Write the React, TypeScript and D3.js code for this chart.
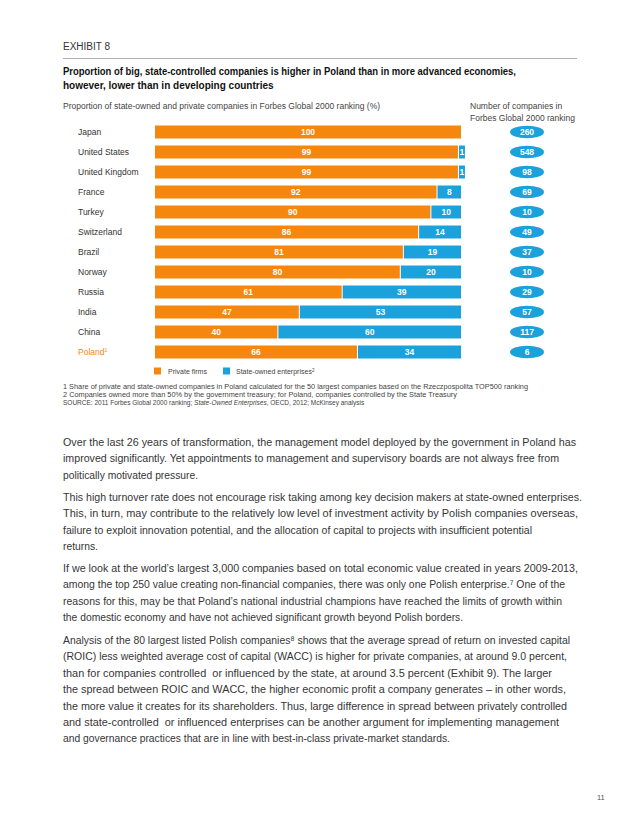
import * as d3 from "d3";

const countries = [
  "Japan",
  "United States",
  "United Kingdom",
  "France",
  "Turkey",
  "Switzerland",
  "Brazil",
  "Norway",
  "Russia",
  "India",
  "China",
  "Poland",
];
const privateShare = [100, 99, 99, 92, 90, 86, 81, 80, 61, 47, 40, 66];
const stateShare = [0, 1, 1, 8, 10, 14, 19, 20, 39, 53, 60, 34];
const companyCounts = [260, 548, 98, 69, 10, 49, 37, 10, 29, 57, 117, 6];

const ORANGE = "#f5870f";
const BLUE = "#1ba1dc";
const FONT = "'Liberation Sans', Arial, Helvetica, sans-serif";

// body copy, one entry per line; w = justified width (0 = natural)
const paragraphs: { text: string; w: number }[][] = [
  [
    { text: "Over the last 26 years of transformation, the management model deployed by the government in Poland has", w: 513 },
    { text: "improved significantly. Yet appointments to management and supervisory boards are not always free from", w: 496 },
    { text: "politically motivated pressure.", w: 0 },
  ],
  [
    { text: "This high turnover rate does not encourage risk taking among key decision makers at state-owned enterprises.", w: 519 },
    { text: "This, in turn, may contribute to the relatively low level of investment activity by Polish companies overseas,", w: 515 },
    { text: "failure to exploit innovation potential, and the allocation of capital to projects with insufficient potential", w: 469 },
    { text: "returns.", w: 0 },
  ],
  [
    { text: "If we look at the world\u2019s largest 3,000 companies based on total economic value created in years 2009-2013,", w: 515 },
    { text: "among the top 250 value creating non-financial companies, there was only one Polish enterprise.\u2077 One of the", w: 502 },
    { text: "reasons for this, may be that Poland\u2019s national industrial champions have reached the limits of growth within", w: 499 },
    { text: "the domestic economy and have not achieved significant growth beyond Polish borders.", w: 0 },
  ],
  [
    { text: "Analysis of the 80 largest listed Polish companies\u2078 shows that the average spread of return on invested capital", w: 507 },
    { text: "(ROIC) less weighted average cost of capital (WACC) is higher for private companies, at around 9.0 percent,", w: 504 },
    { text: "than for companies controlled\u00a0 or influenced by the state, at around 3.5 percent (Exhibit 9). The larger", w: 489 },
    { text: "the spread between ROIC and WACC, the higher economic profit a company generates \u2013 in other words,", w: 503 },
    { text: "the more value it creates for its shareholders. Thus, large difference in spread between privately controlled", w: 504 },
    { text: "and state-controlled\u00a0 or influenced enterprises can be another argument for implementing management", w: 496 },
    { text: "and governance practices that are in line with best-in-class private-market standards.", w: 0 },
  ],
];
const paragraphTops = [446, 501, 572, 644];

export default function App() {
  const width = 638;
  const height = 825;

  const x = d3.scaleLinear().domain([0, 100]).range([155, 461]);
  const y = d3.scalePoint<string>().domain(countries).range([132, 352]);
  const barH = 13;

  return (
    <svg
      width={width}
      height={height}
      style={{ position: "absolute", left: 0, top: 0, background: "#fff" }}
      fontFamily={FONT}
    >
      {/* header */}
      <text x={63} y={50} fontSize={10} fill="#333">EXHIBIT 8</text>
      <line x1={63} x2={577} y1={58.5} y2={58.5} stroke="#9a9a9a" strokeWidth={0.8} />
      <text x={63} y={75} fontSize={10} fontWeight="bold" fill="#111" textLength={453} lengthAdjust="spacingAndGlyphs">
        Proportion of big, state-controlled companies is higher in Poland than in more advanced economies,
      </text>
      <text x={63} y={89} fontSize={10} fontWeight="bold" fill="#111">
        however, lower than in developing countries
      </text>
      <text x={63} y={109} fontSize={8.5} fill="#444">
        Proportion of state-owned and private companies in Forbes Global 2000 ranking (%)
      </text>
      <text x={470} y={109} fontSize={8.5} fill="#444">Number of companies in</text>
      <text x={470} y={121} fontSize={8.5} fill="#444">Forbes Global 2000 ranking</text>

      {/* rows */}
      {countries.map((c, i) => {
        const cy = y(c) ?? 0;
        const p = privateShare[i];
        const s = stateShare[i];
        const pEnd = x(p);
        const sX = pEnd + 1;
        const sW = Math.max(x(100) - sX, 6);
        const isPoland = c === "Poland";
        return (
          <g key={c}>
            <text x={78} y={cy + 3} fontSize={8.5} fill={isPoland ? ORANGE : "#333"}>
              {c}
              {isPoland && (
                <tspan fontSize={5} dy={-3.5}>1</tspan>
              )}
            </text>
            <rect x={x(0)} y={cy - barH / 2} width={pEnd - x(0)} height={barH} fill={ORANGE} />
            <text
              x={(x(0) + pEnd) / 2}
              y={cy + 3}
              fontSize={8.5}
              fontWeight="bold"
              fill="#fff"
              textAnchor="middle"
            >
              {p}
            </text>
            {s > 0 && (
              <>
                <rect x={sX} y={cy - barH / 2} width={sW} height={barH} fill={BLUE} />
                <text
                  x={sX + sW / 2}
                  y={cy + 3}
                  fontSize={8.5}
                  fontWeight="bold"
                  fill="#fff"
                  textAnchor="middle"
                >
                  {s}
                </text>
              </>
            )}
            <ellipse cx={527} cy={cy} rx={17} ry={6.2} fill={BLUE} />
            <text x={527} y={cy + 3} fontSize={8.5} fontWeight="bold" fill="#fff" textAnchor="middle">
              {companyCounts[i]}
            </text>
          </g>
        );
      })}

      {/* legend */}
      <rect x={154} y={367.5} width={7} height={7} fill={ORANGE} />
      <text x={168} y={374} fontSize={7} fill="#444">Private firms</text>
      <rect x={223} y={367.5} width={7} height={7} fill={BLUE} />
      <text x={236} y={374} fontSize={7} fill="#444">
        State-owned enterprises<tspan fontSize={4.5} dy={-2.5}>2</tspan>
      </text>

      {/* footnotes */}
      <text x={63} y={389} fontSize={6.5} fill="#444" textLength={465} lengthAdjust="spacingAndGlyphs">
        1 Share of private and state-owned companies in Poland calculated for the 50 largest companies based on the Rzeczpospolita TOP500 ranking
      </text>
      <text x={63} y={397} fontSize={6.5} fill="#444" textLength={394} lengthAdjust="spacingAndGlyphs">
        2 Companies owned more than 50% by the government treasury; for Poland, companies controlled by the State Treasury
      </text>
      <text x={63} y={405} fontSize={6.5} fill="#444">
        SOURCE: 2011 Forbes Global 2000 ranking; <tspan fontStyle="italic">State-Owned Enterprises</tspan>, OECD, 2012; McKinsey analysis
      </text>

      {/* body copy */}
      {paragraphs.map((lines, pi) =>
        lines.map((ln, li) => (
          <text
            key={`${pi}-${li}`}
            x={63}
            y={paragraphTops[pi] + li * 16.4}
            fontSize={10.3}
            fill="#363636"
            {...(ln.w ? { textLength: ln.w, lengthAdjust: "spacingAndGlyphs" } : {})}
          >
            {ln.text}
          </text>
        )),
      )}

      <text x={597} y={800} fontSize={7.5} fill="#555">11</text>
    </svg>
  );
}
